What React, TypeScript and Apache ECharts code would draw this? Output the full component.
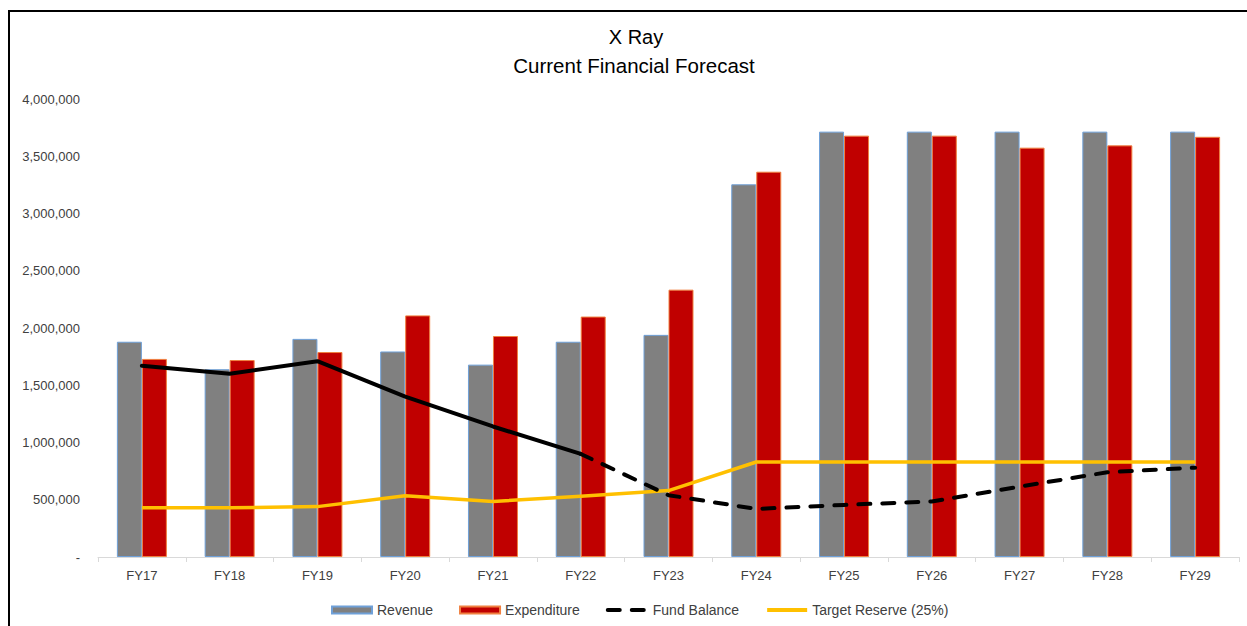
import React, { useEffect, useRef } from "react";
import * as echarts from "echarts";

const categories = ["FY17", "FY18", "FY19", "FY20", "FY21", "FY22", "FY23", "FY24", "FY25", "FY26", "FY27", "FY28", "FY29"];
const revenue = [1880000, 1640000, 1905000, 1795000, 1680000, 1880000, 1940000, 3255000, 3715000, 3715000, 3715000, 3715000, 3715000];
const expenditure = [1730000, 1720000, 1790000, 2110000, 1930000, 2100000, 2335000, 3365000, 3680000, 3680000, 3575000, 3595000, 3670000];
const fundBalance = [1670000, 1600000, 1710000, 1400000, 1140000, 900000, 540000, 420000, 455000, 485000, 615000, 740000, 780000];
// index at which the forecast (dashed) part of the fund balance begins
const forecastStart = 5;
const targetReserve = [430000, 430000, 440000, 535000, 485000, 530000, 580000, 830000, 830000, 830000, 830000, 830000, 830000];
const yTicks = { min: 0, max: 4000000, interval: 500000 };
const titleLines = ["X Ray", "Current Financial Forecast"];
const legendNames = ["Revenue", "Expenditure", "Fund Balance", "Target Reserve (25%)"];

export default function App() {
  const ref = useRef<HTMLDivElement>(null);
  useEffect(() => {
    if (!ref.current) return;
    const chart = echarts.init(ref.current, null, { renderer: "svg" });
    const font = "Liberation Sans";
    const actual = fundBalance.map((v, i) => (i <= forecastStart ? v : null));
    const forecast = fundBalance.map((v, i) => (i >= forecastStart ? v : null));
    const lineLegend = (name: string) => ({ name, itemStyle: { opacity: 0, borderWidth: 0 }, lineStyle: { width: 4 } });
    chart.setOption({
      animation: false,
      backgroundColor: "#ffffff",
      textStyle: { fontFamily: font },
      title: [
        { text: titleLines[0], left: 631, top: 22, textAlign: "center", textStyle: { fontSize: 20, fontWeight: "normal", color: "#000", fontFamily: font } },
        { text: titleLines[1], left: 629, top: 50, textAlign: "center", textStyle: { fontSize: 20.5, fontWeight: "normal", color: "#000", fontFamily: font } },
      ],
      graphic: [
        { type: "line", shape: { x1: 8, y1: 11, x2: 1247, y2: 11 }, style: { stroke: "#000", lineWidth: 2 } },
        { type: "line", shape: { x1: 9, y1: 10, x2: 9, y2: 626 }, style: { stroke: "#000", lineWidth: 2 } },
      ],
      legend: {
        data: [
          { name: legendNames[0], icon: "rect" },
          { name: legendNames[1], icon: "rect" },
          lineLegend(legendNames[2]),
          lineLegend(legendNames[3]),
        ],
        bottom: 4,
        left: 326,
        itemWidth: 40,
        itemHeight: 7,
        itemGap: 26,
        textStyle: { fontSize: 14, color: "#404040", fontFamily: font, padding: [0, 0, 0, 0] },
      },
      grid: { left: 98, right: 8, top: 99, bottom: 69, containLabel: false },
      xAxis: {
        type: "category",
        data: categories,
        axisLine: { lineStyle: { color: "#d9d9d9", width: 1 } },
        axisTick: { show: true, length: 5, lineStyle: { color: "#d9d9d9" } },
        axisLabel: { color: "#404040", fontSize: 13, margin: 12, fontFamily: font },
      },
      yAxis: {
        type: "value",
        min: yTicks.min,
        max: yTicks.max,
        interval: yTicks.interval,
        splitLine: { show: false },
        axisLine: { show: false },
        axisTick: { show: false },
        axisLabel: {
          color: "#404040",
          fontSize: 13,
          margin: 18,
          fontFamily: font,
          formatter: (v: number) => (v === 0 ? "-" : v.toLocaleString("en-US")),
        },
      },
      series: [
        {
          name: "Revenue",
          type: "bar",
          data: revenue,
          barWidth: 25,
          barGap: "0%",
          itemStyle: { color: "#808080", borderColor: "#6fa0d8", borderWidth: 1 },
          z: 2,
        },
        {
          name: "Expenditure",
          type: "bar",
          data: expenditure,
          barWidth: 25,
          barGap: "0%",
          itemStyle: { color: "#c00000", borderColor: "#f08040", borderWidth: 1 },
          z: 2,
        },
        {
          name: "Fund Balance (actual)",
          type: "line",
          data: actual,
          symbol: "none",
          lineStyle: { color: "#000", width: 4, cap: "round", join: "round" },
          itemStyle: { color: "#000" },
          z: 4,
        },
        {
          name: "Fund Balance",
          type: "line",
          data: forecast,
          symbol: "none",
          lineStyle: { color: "#000", width: 4, type: [12, 12], cap: "round" },
          itemStyle: { color: "#000" },
          z: 4,
        },
        {
          name: "Target Reserve (25%)",
          type: "line",
          data: targetReserve,
          symbol: "none",
          lineStyle: { color: "#ffc000", width: 3.5, join: "round" },
          itemStyle: { color: "#ffc000" },
          z: 3,
        },
      ],
    });
    return () => chart.dispose();
  }, []);
  return <div ref={ref} style={{ position: "fixed", left: 0, top: 0, width: 1247, height: 626 }} />;
}
